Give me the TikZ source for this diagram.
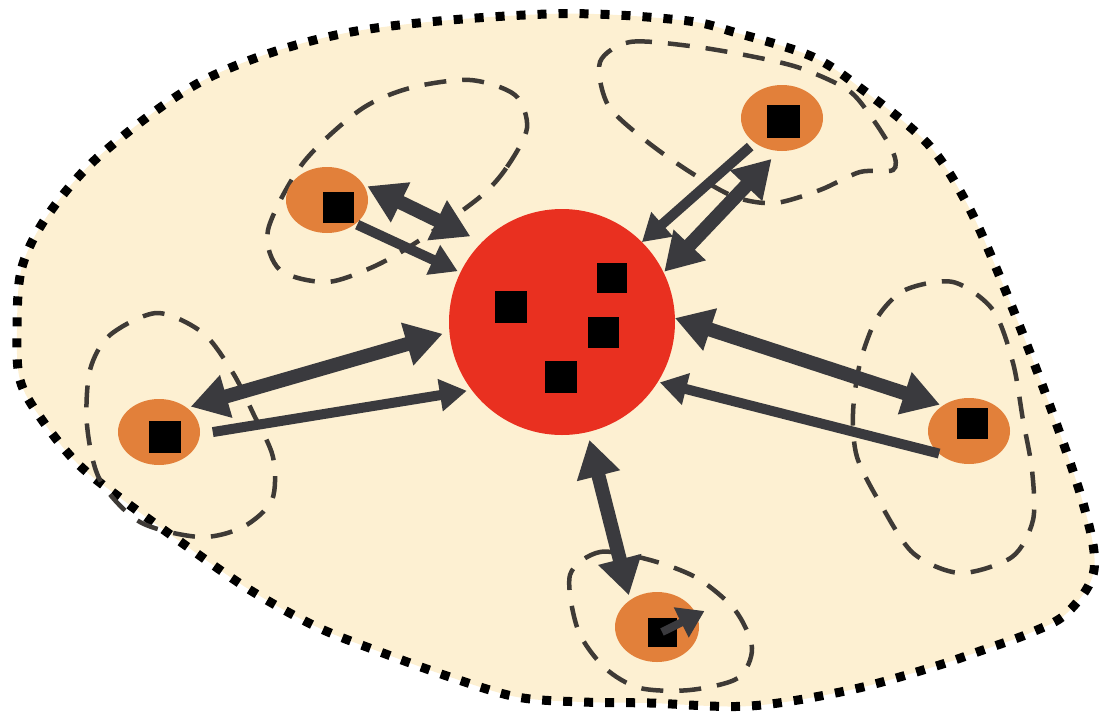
\documentclass[tikz,border=0pt]{standalone}
\usetikzlibrary{arrows.meta,shapes.geometric}
\definecolor{cream}{RGB}{253,240,210}
\definecolor{hubred}{RGB}{233,48,32}
\definecolor{memberorange}{RGB}{226,128,58}
\definecolor{arrowgray}{RGB}{58,58,62}
\definecolor{dashgray}{RGB}{62,58,54}
\begin{document}
\begin{tikzpicture}[x=1pt,y=-1pt,
  blob/.style={fill=cream, draw=black, line width=9pt, dash pattern=on 9pt off 12pt},
  loopline/.style={draw=dashgray, line width=4.5pt, dash pattern=on 22pt off 16pt},
  hub/.style={circle, fill=hubred, minimum size=226pt, inner sep=0pt, outer sep=0pt},
  member/.style={ellipse, fill=memberorange, minimum width=82pt, minimum height=66pt, inner sep=0pt, outer sep=0pt},
  agent/.style={rectangle, fill=black, minimum size=#1, inner sep=0pt, outer sep=0pt},
  agent/.default=31pt,
  twoway/.style={draw=arrowgray, line width=14pt, {Triangle[length=37pt,width=42pt]}-{Triangle[length=37pt,width=42pt]}},
  oneway/.style={draw=arrowgray, line width=10pt, -{Triangle[length=27pt,width=31pt]}},
  smallarrow/.style={draw=arrowgray, line width=8pt, -{Triangle[length=26pt,width=32pt]}}
]
\useasboundingbox (0,0) rectangle (1099,715);

% outer region
\draw[blob] plot[smooth cycle, tension=0.55] coordinates {
  (17,330) (22,267) (50,212) (105,151) (210,77) (351,32) (547,14) (680,20)
  (737,33) (813,57) (863,90) (927,143) (965,200) (997,270) (1043,387)
  (1083,503) (1094,570) (1067,613) (1030,633) (983,650) (933,667) (850,690)
  (750,706) (650,703) (583,702) (517,697) (450,677) (383,653) (317,627)
  (250,590) (185,545) (123,500) (77,463) (40,417) (20,380)};

% dashed neighbourhoods
\draw[loopline] plot[smooth cycle] coordinates {
  (480,197) (507,167) (527,128) (515,95) (470,80) (410,88) (360,110) (303,163)
  (268,230) (280,270) (327,282) (375,266) (420,240)};
\draw[loopline] plot[smooth cycle] coordinates {
  (600,62) (630,42) (690,46) (750,56) (800,68) (848,90) (872,118) (893,152)
  (893,170) (860,172) (820,190) (775,203) (735,197) (690,172) (645,140) (608,105)};
\draw[loopline] plot[smooth cycle] coordinates {
  (90,370) (110,335) (157,313) (203,333) (233,373) (253,413) (273,457) (272,500)
  (243,527) (200,537) (140,522) (100,480) (87,425)};
\draw[loopline] plot[smooth cycle] coordinates {
  (877,318) (905,290) (953,282) (993,310) (1013,363) (1023,420) (1032,470)
  (1033,520) (1012,557) (960,573) (913,553) (880,503) (857,457) (853,413) (860,363)};
\draw[loopline] plot[smooth cycle] coordinates {
  (570,575) (600,552) (650,560) (697,578) (735,610) (752,648) (738,678)
  (690,690) (640,688) (605,668) (578,630)};

% hub and members
\node[hub] (C) at (562,322) {};
\node[agent=32pt] (c1) at (511,307) {};
\node[agent=30pt] (c2) at (612,278) {};
\node[agent=31pt] (c3) at (603,332) {};
\node[agent=32pt] (c4) at (561,377) {};

\node[member] (TL) at (327,200) {};
\node[member] (TR) at (782,118) {};
\node[member] (L) at (159,432) {};
\node[member] (R) at (969,431) {};
\node[member, minimum width=84pt, minimum height=70pt] (B) at (657,627) {};

\node[agent] (TLsq) at (338,207) {};
\node[agent=33pt] (TRsq) at (783,121) {};
\node[agent=32pt] (Lsq) at (165,437) {};
\node[agent] (Rsq) at (972,423) {};
\node[agent=29pt] (Bsq) at (662,632) {};

% connectors
\draw[twoway, shorten <=5pt, shorten >=13pt] (TL.24) -- (C.135);
\draw[oneway, shorten <=2pt, shorten >=3pt] (TL.-40) -- (C.154);
\draw[oneway, shorten <=6pt] (TR.222) -- (C.45);
\draw[twoway, shorten <=11pt, shorten >=1pt] (TR.265) -- (C.26);
\draw[twoway, shorten <=4pt, shorten >=7pt] (L.41) -- (C.185);
\draw[oneway, shorten <=13pt, shorten >=5pt] (L.-3) -- (C.217);
\draw[twoway, shorten >=3pt] (C.2) -- (R.136);
\draw[oneway, shorten >=2pt] (R.217) -- (C.-32);
\draw[twoway, shorten <=8pt, shorten >=5pt] (C.-77) -- (B.135);
\draw[smallarrow, shorten >=-9pt] (Bsq.center) -- (B.17);
\end{tikzpicture}
\end{document}
